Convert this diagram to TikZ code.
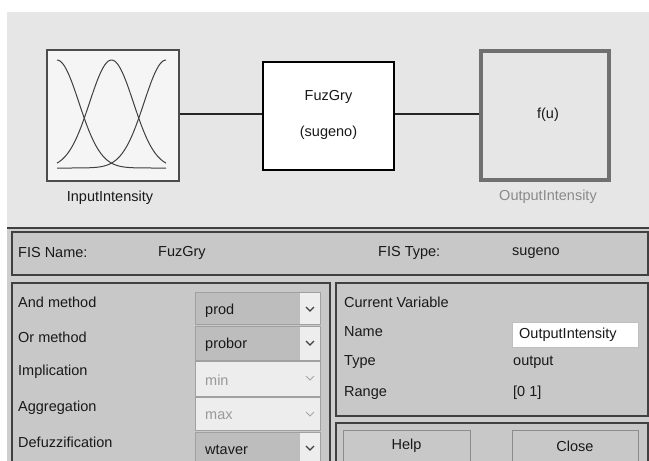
\documentclass[tikz,border=0pt]{standalone}
\usepackage{fontspec}
\setmainfont{Liberation Sans}
\definecolor{topbg}{HTML}{E6E6E6}
\definecolor{panel}{HTML}{C8C8C8}
\definecolor{gap}{HTML}{CECECE}
\definecolor{edge}{HTML}{404040}
\definecolor{ddfill}{HTML}{BDBDBD}
\definecolor{ddlight}{HTML}{EDEDED}
\definecolor{outedge}{HTML}{707070}
\definecolor{graytext}{HTML}{8A8A8A}
\tikzset{
  txt/.style={font=\fontsize{14.5}{17}\selectfont, inner sep=0pt, text=black!90},
  lbl/.style={txt, anchor=west},
  panelbox/.style={draw=edge, line width=1.2pt, fill=panel},
  ddbox/.style={draw=panel!80!black, line width=0.6pt, fill=ddfill},
  ddoff/.style={draw=panel!80!black, line width=0.6pt, fill=ddlight},
  chev/.style={line width=1.3pt, draw=black!75},
  chevoff/.style={line width=0.8pt, draw=black!35},
  btn/.style={draw=black!45, line width=1pt, fill=panel, txt},
  wire/.style={line width=1.5pt, draw=black!85},
  mf/.style={line width=1pt, draw=black!75, smooth}
}
\begin{document}
\begin{tikzpicture}[x=1pt,y=-1pt]
\useasboundingbox (0,0) rectangle (649,461);
\fill[white] (0,0) rectangle (649,461);
% top area
\fill[topbg] (7,12) rectangle (649,227);
% bottom area
\fill[gap] (7,227) rectangle (649,461);
\draw[edge, line width=2pt] (7,227.5) -- (649,227.5);

% input box
\node[draw=black!70, line width=1.3pt, fill=white!96!black, minimum width=132pt, minimum height=131pt, inner sep=0pt] (in) at (113,115.5) {};
\draw[mf] plot[domain=57:166, samples=60] (\x, {168-108*exp(-((\x-57)*(\x-57))/960)});
\draw[mf] plot[domain=57:166, samples=60] (\x, {168-108*exp(-((\x-111.5)*(\x-111.5))/960)});
\draw[mf] plot[domain=57:166, samples=60] (\x, {168-108*exp(-((\x-166)*(\x-166))/960)});
\node[txt] (inlbl) at (110,198) {InputIntensity};

% FIS box
\node[draw=black, line width=1.6pt, fill=white, minimum width=131pt, minimum height=108pt, inner sep=0pt] (fis) at (328.5,116) {};
\node[txt] (fisname) at (328.5,97) {FuzGry};
\node[txt] (fistype) at (328.5,133) {(sugeno)};

% output box
\node[draw=outedge, line width=4pt, fill=topbg, minimum width=128pt, minimum height=129pt, inner sep=0pt] (out) at (544.5,115) {};
\node[txt] (fu) at (548,115) {f(u)};
\node[txt, text=graytext] (outlbl) at (548,197) {OutputIntensity};

\draw[wire] (in.east |- 0,114) -- (fis.west |- 0,114);
\draw[wire] (fis.east |- 0,114) -- (out.west |- 0,114);

% FIS name row
\draw[panelbox] (12,232) rectangle (648,275);
\node[lbl] (l1) at (18,253) {FIS Name:};
\node[lbl] (l2) at (158,253) {FuzGry};
\node[lbl] (l3) at (378,253) {FIS Type:};
\node[lbl] (l4) at (512,253) {sugeno};

% left panel
\draw[panelbox] (12,283) rectangle (330,470);
\node[lbl] (a1) at (18,302) {And method};
\node[lbl] (a2) at (18,337) {Or method};
\node[lbl] (a3) at (18,372) {Implication};
\node[lbl] (a4) at (18,408) {Aggregation};
\node[lbl] (a5) at (18,442) {Defuzzification};

% dropdowns
\draw[ddbox] (195,292) rectangle (320,324);
\fill[ddlight] (300,293) rectangle (319.5,323.5);
\node[lbl] (d1) at (205,311) {prod};
\draw[chev] (306,307) -- (310,311) -- (314,307);

\draw[ddbox] (195,326) rectangle (320,360);
\fill[ddlight] (300,327) rectangle (319.5,359.5);
\node[lbl] (d2) at (205,345) {probor};
\draw[chev] (306,341) -- (310,345) -- (314,341);

\draw[ddoff] (195,361.5) rectangle (320,396);
\node[lbl, text=black!40] (d3) at (205,380) {min};
\draw[chevoff] (306,376) -- (310,380) -- (314,376);

\draw[ddoff] (195,397.5) rectangle (320,430);
\node[lbl, text=black!40] (d4) at (205,416) {max};
\draw[chevoff] (306,412) -- (310,416) -- (314,412);

\draw[ddbox] (195,432) rectangle (320,468);
\fill[ddlight] (300,433) rectangle (319.5,467);
\node[lbl] (d5) at (205,450) {wtaver};
\draw[chev] (306,446) -- (310,450) -- (314,446);

% right panel
\draw[panelbox] (336,283) rectangle (648,416);
\node[lbl] (c1) at (344,302) {Current Variable};
\node[lbl] (c2) at (344,332) {Name};
\node[lbl] (c3) at (344,362) {Type};
\node[lbl] (c4) at (344,393) {Range};
\node[draw=black!25, line width=0.8pt, fill=white, minimum width=126pt, minimum height=25pt, inner sep=0pt] (namebox) at (575,334.5) {};
\node[lbl] (c5) at (519,335) {OutputIntensity};
\node[lbl] (c6) at (513,362) {output};
\node[lbl] (c7) at (513,393) {[0 1]};

% buttons panel
\draw[panelbox] (336,423) rectangle (648,470);
\node[btn, minimum width=127pt, minimum height=34pt] (help) at (406.5,447) {};
\node[txt] (helpt) at (406.5,446) {Help};
\node[btn, minimum width=126pt, minimum height=34pt] (close) at (575,447) {};
\node[txt] (closet) at (575,446) {Close};
\end{tikzpicture}
\end{document}
